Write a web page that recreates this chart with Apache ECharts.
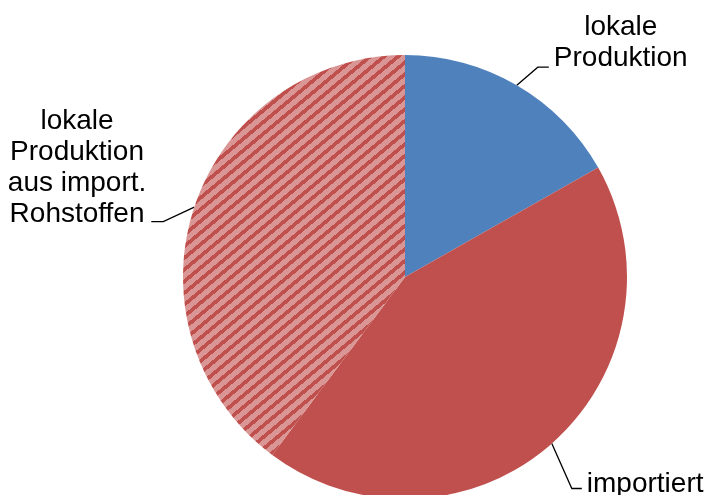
<!DOCTYPE html>
<html>
<head>
<meta charset="utf-8">
<script src="https://cdn.jsdelivr.net/npm/echarts@6/dist/echarts.min.js"></script>
<style>
  html, body { margin: 0; padding: 0; background: #fff; }
  #chart { width: 708px; height: 495px; }
</style>
</head>
<body>
<div id="chart"></div>
<script>
// Anteile der Versorgung (in %)
const categories = ['lokale\nProduktion', 'importiert', 'lokale\nProduktion\naus import.\nRohstoffen'];
const shares = [16.8, 43.4, 39.8];

// Farben je Segment
const BLUE = '#4f81bd';
const RED = '#c0504d';
const PINK = '#d99694';

// Schraffur (Diagonalstreifen) für das dritte Segment
function stripeTile() {
  const w = 14, h = 35, period = 70, band = 29;
  const c = document.createElement('canvas');
  c.width = w; c.height = h;
  const ctx = c.getContext('2d');
  const img = ctx.createImageData(w, h);
  const light = [0xd9, 0x96, 0x94], dark = [0xc0, 0x50, 0x4d];
  for (let y = 0; y < h; y++) {
    for (let x = 0; x < w; x++) {
      const t = (5 * x + 6 * y) % period;
      const col = t < band ? dark : light;
      const i = (y * w + x) * 4;
      img.data[i] = col[0]; img.data[i + 1] = col[1]; img.data[i + 2] = col[2]; img.data[i + 3] = 255;
    }
  }
  ctx.putImageData(img, 0, 0);
  return c;
}

// Führungslinien: Knick relativ zum Randpunkt, dann waagrechtes Stück
const leaders = [
  { bend: [21, -18], run: 11, textDy: 7 },
  { bend: [20, 45], run: 10, textDy: 11 },
  { bend: [-31, 14.5], run: -12, textDy: 8 }
];

const colors = [BLUE, RED, { image: stripeTile(), repeat: 'repeat' }];

const chart = echarts.init(document.getElementById('chart'), null, { renderer: 'canvas' });

chart.setOption({
  backgroundColor: '#ffffff',
  animation: false,
  series: [{
    type: 'pie',
    center: [405, 277],
    radius: 222,
    startAngle: 90,
    clockwise: true,
    avoidLabelOverlap: false,
    data: categories.map((name, i) => ({
      name: name,
      value: shares[i],
      itemStyle: { color: colors[i] }
    })),
    itemStyle: { borderWidth: 0 },
    label: {
      show: true,
      position: 'outside',
      color: '#000',
      fontFamily: 'Liberation Sans, Arial, sans-serif',
      fontSize: 28,
      lineHeight: 31,
      formatter: p => p.name.split('\n').map(s => '{c|' + s + '}').join('\n'),
      rich: {
        c: {
          align: 'center',
          color: '#000',
          fontFamily: 'Liberation Sans, Arial, sans-serif',
          fontSize: 28,
          lineHeight: 31
        }
      }
    },
    labelLine: {
      show: true,
      length: 20,
      length2: 10,
      smooth: false,
      lineStyle: { color: '#000', width: 1.3 }
    },
    labelLayout: function (p) {
      const pts = p.labelLinePoints;
      const g = leaders[p.dataIndex];
      if (!pts || !g) return {};
      const a = pts[0];
      const b = [a[0] + g.bend[0], a[1] + g.bend[1]];
      const c = [b[0] + g.run, b[1]];
      return {
        x: c[0] + (g.run > 0 ? 5 : -5),
        y: c[1] + g.textDy,
        align: g.run > 0 ? 'left' : 'right',
        verticalAlign: 'bottom',
        labelLinePoints: [a, b, c]
      };
    },
    emphasis: { disabled: true }
  }]
});
</script>
</body>
</html>
